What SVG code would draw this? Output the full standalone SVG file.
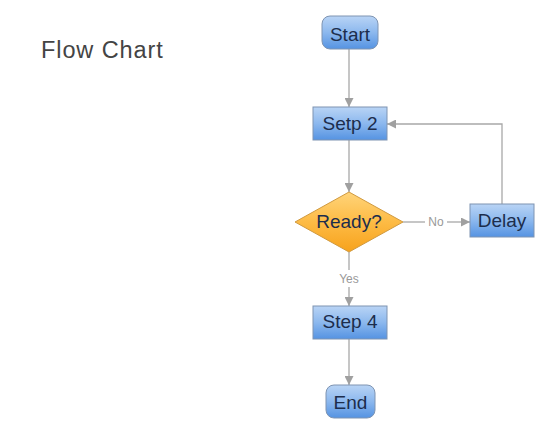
<svg xmlns="http://www.w3.org/2000/svg" width="554" height="435" viewBox="0 0 554 435">
<defs>
<linearGradient id="blue" x1="0" y1="0" x2="0" y2="1">
<stop offset="0" stop-color="#b9d4f5"/>
<stop offset="0.5" stop-color="#8cb8ee"/>
<stop offset="1" stop-color="#5593e2"/>
</linearGradient>
<linearGradient id="orange" x1="0" y1="0" x2="0" y2="1">
<stop offset="0" stop-color="#ffd47a"/>
<stop offset="0.5" stop-color="#fdbb45"/>
<stop offset="1" stop-color="#f7a21c"/>
</linearGradient>
<marker id="arr" viewBox="0 0 10 10" refX="10" refY="5" markerWidth="9" markerHeight="9" markerUnits="userSpaceOnUse" orient="auto">
<path d="M0,0 L10,5 L0,10 z" fill="#a0a0a0"/>
</marker>
<style>
.box{fill:url(#blue);stroke:#7e94b2;stroke-width:1}
.dia{fill:url(#orange);stroke:#d09a40;stroke-width:1}
.lbl{font-family:"Liberation Sans",Arial,sans-serif;font-size:19px;fill:#1c2d4c;text-anchor:middle}
.edge{fill:none;stroke:#a8a8a8;stroke-width:1.3}
.elbl{font-family:"Liberation Sans",Arial,sans-serif;font-size:12px;fill:#999;text-anchor:middle}
</style>
</defs>
<rect width="554" height="435" fill="#ffffff"/>
<text x="41" y="58" font-family="'Liberation Sans',Arial,sans-serif" font-size="23.5" letter-spacing="0.9" fill="#444">Flow Chart</text>
<g id="connectors">
<line class="edge" x1="349" y1="49" x2="349" y2="107" marker-end="url(#arr)"/>
<line class="edge" x1="349" y1="140" x2="349" y2="192" marker-end="url(#arr)"/>
<path class="edge" d="M403,222 L425,222"/>
<path class="edge" d="M447,222 L470,222" marker-end="url(#arr)"/>
<text class="elbl" x="436" y="226">No</text>
<path class="edge" d="M502,204 L502,124 L387,124" marker-end="url(#arr)"/>
<path class="edge" d="M349,252 L349,270"/>
<path class="edge" d="M349,287 L349,306" marker-end="url(#arr)"/>
<text class="elbl" x="349" y="283">Yes</text>
<line class="edge" x1="349" y1="339" x2="349" y2="385" marker-end="url(#arr)"/>
</g>
<g id="start">
<rect class="box" x="322" y="16" width="56" height="33" rx="8"/>
<text class="lbl" x="350" y="40.5">Start</text>
</g>
<g id="step2">
<rect class="box" x="313" y="107" width="74" height="33"/>
<text class="lbl" x="350" y="130">Setp 2</text>
</g>
<g id="ready">
<polygon class="dia" points="349,192 403,222 349,252 295,222"/>
<text class="lbl" x="349" y="228">Ready?</text>
</g>
<g id="delay">
<rect class="box" x="470" y="204" width="64" height="33"/>
<text class="lbl" x="502" y="227">Delay</text>
</g>
<g id="step4">
<rect class="box" x="313" y="306" width="74" height="33"/>
<text class="lbl" x="350" y="328">Step 4</text>
</g>
<g id="end">
<rect class="box" x="326" y="385" width="49" height="33" rx="8"/>
<text class="lbl" x="350.5" y="409">End</text>
</g>
</svg>
